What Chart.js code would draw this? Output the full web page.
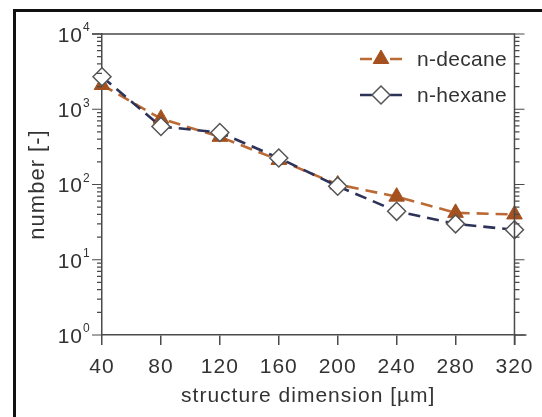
<!DOCTYPE html>
<html>
<head>
<meta charset="utf-8">
<script src="https://cdn.jsdelivr.net/npm/chart.js@4/dist/chart.umd.min.js"></script>
<style>
  html, body { margin: 0; padding: 0; background: #fff; overflow: hidden; }
  #grafik { display: block; }
</style>
</head>
<body>
<canvas id="grafik" width="542" height="417"></canvas>
<script>
// data
const dimensions = ['40', '80', '120', '160', '200', '240', '280', '320'];
const nDecane = [2100, 750, 430, 212, 100, 69, 42, 40];
const nHexane = [2700, 590, 490, 225, 95, 44, 30, 25];
const yTickValues = [1, 10, 100, 1000, 10000];
const yTickExponents = ['0', '1', '2', '3', '4'];

const FONT = "'Liberation Sans', Arial, Helvetica, sans-serif";
const AXIS = '#4a4a4a';
const TEXT = '#333';

// outer frame, ticks, top/right line, y labels and the legend inside the plot
const rahmenPlugin = {
  id: 'rahmen',
  beforeDraw(chart) {
    const ctx = chart.ctx;
    ctx.save();
    ctx.fillStyle = '#fff';
    ctx.fillRect(0, 0, chart.width, chart.height);
    ctx.fillStyle = '#111';
    ctx.fillRect(13, 9, 3, 408);
    ctx.fillRect(13, 9, 529, 3);
    ctx.restore();
    ctx.letterSpacing = '1px';
  },
  afterDraw(chart) {
    const ctx = chart.ctx;
    const y = chart.scales.y;
    const { left, right, top, bottom } = chart.chartArea;
    ctx.save();
    ctx.letterSpacing = '0px';
    ctx.strokeStyle = AXIS;
    ctx.lineWidth = 1.5;

    ctx.beginPath();
    ctx.moveTo(left - 10, top);
    ctx.lineTo(right, top);
    ctx.lineTo(right, bottom + 10);
    ctx.moveTo(right, bottom);
    ctx.lineTo(right + 12, bottom);
    ctx.stroke();

    // log ticks, both sides
    ctx.lineWidth = 1.2;
    for (let d = 0; d < yTickValues.length; d++) {
      const dec = yTickValues[d];
      const py = y.getPixelForValue(dec);
      ctx.beginPath();
      ctx.moveTo(left - 10, py); ctx.lineTo(left, py);
      ctx.moveTo(right, py); ctx.lineTo(right + 10, py);
      ctx.stroke();
      if (d === yTickValues.length - 1) break;
      for (let m = 2; m <= 9; m++) {
        const pm = y.getPixelForValue(dec * m);
        ctx.beginPath();
        ctx.moveTo(left - 5, pm); ctx.lineTo(left, pm);
        ctx.moveTo(right, pm); ctx.lineTo(right + 5, pm);
        ctx.stroke();
      }
    }

    // y labels 10^n
    ctx.fillStyle = TEXT;
    ctx.textBaseline = 'middle';
    yTickValues.forEach((v, i) => {
      const py = y.getPixelForValue(v);
      ctx.font = '21px ' + FONT;
      ctx.letterSpacing = '1px';
      ctx.textAlign = 'right';
      ctx.fillText('10', left - 19, py + 2);
      ctx.font = '12px ' + FONT;
      ctx.letterSpacing = '0px';
      ctx.textAlign = 'left';
      ctx.fillText(yTickExponents[i], left - 19, py - 6);
    });

    // legend
    const rows = [59, 95];
    chart.data.datasets.forEach((ds, i) => {
      const ly = rows[i];
      ctx.save();
      ctx.strokeStyle = ds.borderColor;
      ctx.lineWidth = ds.borderWidth;
      ctx.setLineDash([]);
      ctx.beginPath();
      ctx.moveTo(360, ly); ctx.lineTo(372, ly);
      ctx.moveTo(390, ly); ctx.lineTo(402, ly);
      ctx.stroke();
      ctx.fillStyle = ds.pointBackgroundColor;
      ctx.strokeStyle = ds.pointBorderColor;
      ctx.lineWidth = ds.pointBorderWidth;
      Chart.helpers.drawPoint(ctx, {
        pointStyle: ds.pointStyle,
        radius: ds.pointRadius,
        borderWidth: ds.pointBorderWidth,
        rotation: 0
      }, 381, ly);
      ctx.restore();
      ctx.fillStyle = TEXT;
      ctx.font = '21px ' + FONT;
      ctx.letterSpacing = '0.3px';
      ctx.textAlign = 'left';
      ctx.fillText(ds.label, 417, ly + 1);
    });
    ctx.restore();
  }
};

const ctx = document.getElementById('grafik').getContext('2d');

new Chart(ctx, {
  type: 'line',
  data: {
    labels: dimensions,
    datasets: [
      {
        label: 'n-decane',
        data: nDecane,
        borderColor: '#bb6a35',
        borderWidth: 2.6,
        borderDash: [12, 7],
        pointStyle: 'triangle',
        pointRadius: 9,
        pointBackgroundColor: '#a5511f',
        pointBorderColor: '#a5511f',
        pointBorderWidth: 1,
        clip: false,
        order: 1
      },
      {
        label: 'n-hexane',
        data: nHexane,
        borderColor: '#2c3258',
        borderWidth: 2.6,
        borderDash: [12, 7],
        pointStyle: 'rectRot',
        pointRadius: 9,
        pointBackgroundColor: '#ffffff',
        pointBorderColor: '#555555',
        pointBorderWidth: 1.5,
        clip: false,
        order: 0
      }
    ]
  },
  options: {
    responsive: false,
    animation: false,
    layout: { padding: { left: 0, right: 25, top: 34, bottom: 0 } },
    plugins: {
      legend: { display: false },
      tooltip: { enabled: false }
    },
    scales: {
      x: {
        offset: false,
        grid: { display: true, drawOnChartArea: false, drawTicks: true, tickLength: 10, color: AXIS, lineWidth: 1.5 },
        border: { display: true, color: AXIS, width: 1.5 },
        ticks: { padding: 10, color: TEXT, font: { family: FONT, size: 21 }, maxRotation: 0, autoSkip: false },
        title: {
          display: true,
          text: 'structure dimension [µm]',
          color: TEXT,
          font: { family: FONT, size: 21 },
          padding: { top: 0, bottom: 8 }
        },
        afterFit(s) { s.height = 82; }
      },
      y: {
        type: 'logarithmic',
        min: 1,
        max: 10000,
        grid: { display: false },
        border: { display: true, color: AXIS, width: 1.5 },
        ticks: { display: false },
        title: {
          display: true,
          text: 'number [-]',
          color: TEXT,
          font: { family: FONT, size: 22 },
          padding: { top: 25, bottom: 0 }
        },
        afterFit(s) { s.width = 102; }
      }
    }
  },
  plugins: [rahmenPlugin]
});
</script>
</body>
</html>
